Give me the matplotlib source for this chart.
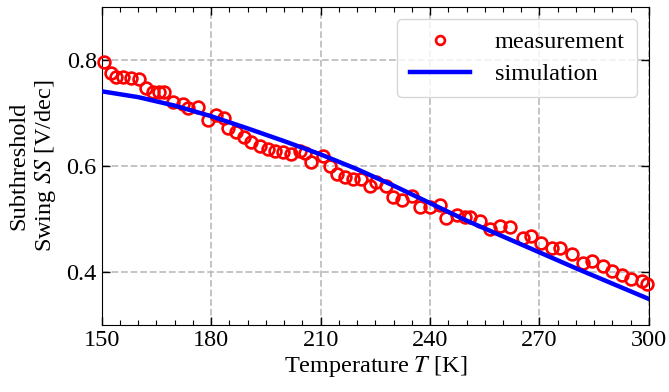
import numpy as np
import matplotlib
matplotlib.use("Agg")
import matplotlib.pyplot as plt
from matplotlib.ticker import MultipleLocator

plt.rcParams['font.family'] = ['Liberation Serif', 'DejaVu Serif']
plt.rcParams['mathtext.fontset'] = 'stix'
plt.rcParams['font.size'] = 17.5

# measured subthreshold swing vs temperature
meas_T = [150.5, 152.6, 153.9, 155.8, 158.0, 160.3, 162.1, 164.0, 165.8, 167.2,
          169.5, 172.2, 173.6, 176.3, 179.1, 181.4, 183.6, 184.6, 186.9, 189.0,
          191.0, 193.3, 195.6, 197.4, 199.7, 202.0, 204.3, 205.7, 207.5, 210.6,
          212.5, 214.4, 216.6, 218.9, 221.0, 223.5, 225.3, 228.0, 229.9, 232.2,
          235.0, 237.2, 240.0, 242.7, 244.5, 247.3, 249.5, 250.9, 253.6, 256.4,
          259.1, 261.9, 265.4, 267.8, 270.5, 273.3, 275.6, 278.8, 282.0, 284.5,
          287.5, 289.8, 292.5, 295.2, 298.0, 299.5]
meas_SS = [0.797, 0.775, 0.768, 0.768, 0.767, 0.764, 0.748, 0.740, 0.740, 0.739,
           0.721, 0.717, 0.709, 0.711, 0.686, 0.697, 0.690, 0.672, 0.664, 0.655,
           0.645, 0.637, 0.633, 0.629, 0.626, 0.623, 0.629, 0.625, 0.608, 0.618,
           0.600, 0.585, 0.580, 0.576, 0.575, 0.563, 0.569, 0.563, 0.542, 0.535,
           0.544, 0.523, 0.522, 0.527, 0.501, 0.508, 0.503, 0.503, 0.496, 0.481,
           0.487, 0.484, 0.465, 0.468, 0.455, 0.446, 0.446, 0.433, 0.417, 0.420,
           0.411, 0.401, 0.395, 0.386, 0.383, 0.378]

# simulated curve
sim_T = [150, 160, 170, 180, 190, 200, 210, 220, 230, 240, 250, 260, 270, 280, 290, 300]
sim_SS = [0.741, 0.730, 0.714, 0.694, 0.671, 0.647, 0.622, 0.594, 0.563, 0.530,
          0.497, 0.467, 0.437, 0.407, 0.378, 0.349]

fig = plt.figure(figsize=(6.69, 3.92), dpi=100)
ax = fig.add_axes([0.152, 0.171, 0.818, 0.811])

ax.plot(meas_T, meas_SS, 'o', mfc='none', mec='red', mew=1.9, ms=8.5,
        label='measurement', clip_on=False, zorder=3)
ax.plot(sim_T, sim_SS, '-', color='blue', lw=3.2, label='simulation', zorder=4)

ax.set_xlim(150, 300)
ax.set_ylim(0.3, 0.9)
ax.xaxis.set_major_locator(MultipleLocator(30))
ax.xaxis.set_minor_locator(MultipleLocator(5))
ax.yaxis.set_major_locator(MultipleLocator(0.2))
ax.tick_params(which='both', direction='in', top=True, right=True)
ax.tick_params(which='major', length=6, width=1)
ax.tick_params(which='minor', length=3.5, width=0.8)
ax.grid(True, which='major', ls='--', color='0.75', lw=1.3)

ax.set_xlabel('Temperature $T$ [K]', labelpad=2)
ax.set_ylabel('Subthreshold\nSwing $SS$ [V/dec]', labelpad=6)

ax.legend(loc='upper right', fontsize=17.5, frameon=True, fancybox=True,
          edgecolor='0.8', framealpha=0.8, handlelength=2.5, markerscale=0.75,
          borderpad=0.5, labelspacing=0.4, handletextpad=1.0)

fig.savefig('out.png', dpi=100)
